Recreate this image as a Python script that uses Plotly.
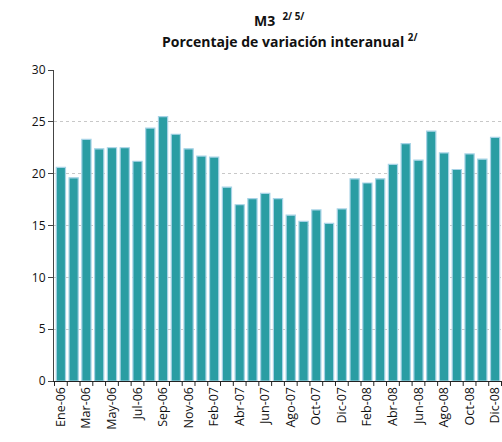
import plotly.graph_objects as go

months = ["Ene-06", "Feb-06", "Mar-06", "Abr-06", "May-06", "Jun-06", "Jul-06", "Ago-06",
          "Sep-06", "Oct-06", "Nov-06", "Dic-06", "Feb-07", "Mar-07", "Abr-07", "May-07",
          "Jun-07", "Jul-07", "Ago-07", "Sep-07", "Oct-07", "Nov-07", "Dic-07", "Ene-08",
          "Feb-08", "Mar-08", "Abr-08", "May-08", "Jun-08", "Jul-08", "Ago-08", "Sep-08",
          "Oct-08", "Nov-08", "Dic-08"]
values = [20.6, 19.6, 23.3, 22.4, 22.5, 22.5, 21.2, 24.4, 25.5, 23.8, 22.4, 21.7,
          21.6, 18.7, 17.0, 17.6, 18.1, 17.6, 16.0, 15.4, 16.5, 15.2, 16.6, 19.5,
          19.1, 19.5, 20.9, 22.9, 21.3, 24.1, 22.0, 20.4, 21.9, 21.4, 23.5]
tick_labels = months[::2]
y_ticks = [0, 5, 10, 15, 20, 25, 30]

fig = go.Figure()
fig.add_trace(go.Bar(
    x=months, y=values,
    marker=dict(color="#2a9da3", line=dict(color="#a6d3e6", width=1.2)),
    width=0.72,
))

fig.update_layout(
    width=502, height=442,
    margin=dict(l=54, r=0, t=70, b=61),
    paper_bgcolor="white", plot_bgcolor="white",
    showlegend=False,
    font=dict(family="Open Sans, Liberation Sans, sans-serif", size=12, color="#111"),
)
fig.add_annotation(text="<b>M3  <sup>2/ 5/</sup></b>", xref="paper", yref="paper",
                   x=(279 - 54) / 448, y=(381 - 20) / 311, yanchor="middle",
                   showarrow=False, font=dict(size=14))
fig.add_annotation(text="<b>Porcentaje de variación interanual <sup>2/</sup></b>",
                   xref="paper", yref="paper",
                   x=(290 - 54) / 448, y=(381 - 41) / 311, yanchor="middle",
                   showarrow=False, font=dict(size=14))

fig.update_xaxes(
    type="category", automargin=False,
    tickmode="array", tickvals=tick_labels, ticktext=tick_labels,
    tickangle=-90, ticks="", showline=True, linecolor="#222", linewidth=1,
    showgrid=False, tickfont=dict(size=12.5),
)
fig.update_yaxes(
    range=[0, 30], tickvals=y_ticks, ticks="outside", ticklen=5, tickcolor="#444",
    automargin=False,
    showline=True, linecolor="#444", linewidth=1,
    showgrid=True, gridcolor="#c8c8c8", griddash="dot", gridwidth=1,
    tickfont=dict(size=12), zeroline=False,
)

# category boundary tick marks along x axis
for i in range(len(months) + 1):
    fig.add_shape(type="line", xref="x", yref="paper",
                  x0=i - 0.5, x1=i - 0.5, y0=0, y1=-0.016,
                  line=dict(color="#222", width=1))

# remove the page's default body margin and scrollbars so the figure fills the window
page_fix = ("document.documentElement.style.overflow='hidden';"
            "document.body.style.margin='0';document.body.style.overflow='hidden';")
fig.write_html("out.html", post_script=page_fix, config={"displayModeBar": False})
